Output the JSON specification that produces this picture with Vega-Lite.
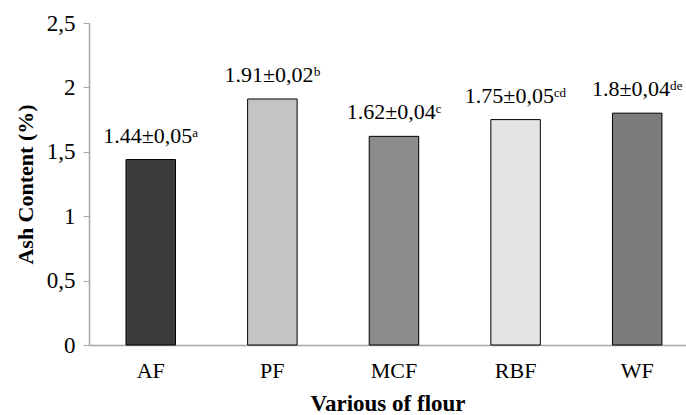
{
  "$schema": "https://vega.github.io/schema/vega-lite/v6.json",
  "width": 597,
  "height": 322,
  "autosize": {"type": "none"},
  "padding": {"left": 89, "top": 23, "right": 0, "bottom": 70},
  "background": "white",
  "config": {
    "font": "Liberation Serif",
    "view": {"stroke": null}
  },
  "data": {
    "values": [
      {"flour": "AF", "ash": 1.44, "label": "1.44±0,05ᵃ"},
      {"flour": "PF", "ash": 1.91, "label": "1.91±0,02ᵇ"},
      {"flour": "MCF", "ash": 1.62, "label": "1.62±0,04ᶜ"},
      {"flour": "RBF", "ash": 1.75, "label": "1.75±0,05ᶜᵈ"},
      {"flour": "WF", "ash": 1.8, "label": "1.8±0,04ᵈᵉ"}
    ]
  },
  "encoding": {
    "x": {
      "field": "flour",
      "type": "nominal",
      "sort": null,
      "scale": {"paddingInner": 0.593, "paddingOuter": 0.251, "align": 0.606},
      "axis": {
        "title": "Various of flour",
        "titleFont": "Liberation Serif",
        "titleFontSize": 23,
        "titleFontWeight": "bold",
        "titleColor": "black",
        "titleBaseline": "middle",
        "titleY": 58,
        "labelAngle": 0,
        "labelFontSize": 22,
        "labelColor": "black",
        "labelPadding": 15,
        "ticks": false,
        "domainColor": "#a6a6a6",
        "domainWidth": 1.5
      }
    },
    "y": {
      "field": "ash",
      "type": "quantitative",
      "scale": {"domain": [0, 2.5], "nice": false},
      "axis": {
        "title": "Ash Content (%)",
        "titleFont": "Liberation Serif",
        "titleFontSize": 22,
        "titleFontWeight": "bold",
        "titleColor": "black",
        "titleAngle": 270,
        "titleBaseline": "middle",
        "titleAlign": "center",
        "titleX": -64,
        "titleY": 161,
        "values": [0, 0.5, 1, 1.5, 2, 2.5],
        "labelExpr": "replace(format(datum.value, '~g'), '.', ',')",
        "labelFontSize": 23,
        "labelColor": "black",
        "labelPadding": 8,
        "tickSize": 6,
        "tickColor": "#a6a6a6",
        "domainColor": "#a6a6a6",
        "domainWidth": 1.5,
        "grid": false
      }
    }
  },
  "layer": [
    {
      "mark": {"type": "bar", "stroke": "black", "strokeWidth": 1},
      "encoding": {
        "color": {
          "field": "flour",
          "type": "nominal",
          "legend": null,
          "scale": {
            "domain": ["AF", "PF", "MCF", "RBF", "WF"],
            "range": ["#3c3c3c", "#c4c4c4", "#8c8c8c", "#e4e4e4", "#7c7c7c"]
          }
        }
      }
    },
    {
      "mark": {"type": "text", "baseline": "alphabetic", "dy": -17, "fontSize": 22, "color": "black"},
      "encoding": {"text": {"field": "label"}}
    }
  ]
}
